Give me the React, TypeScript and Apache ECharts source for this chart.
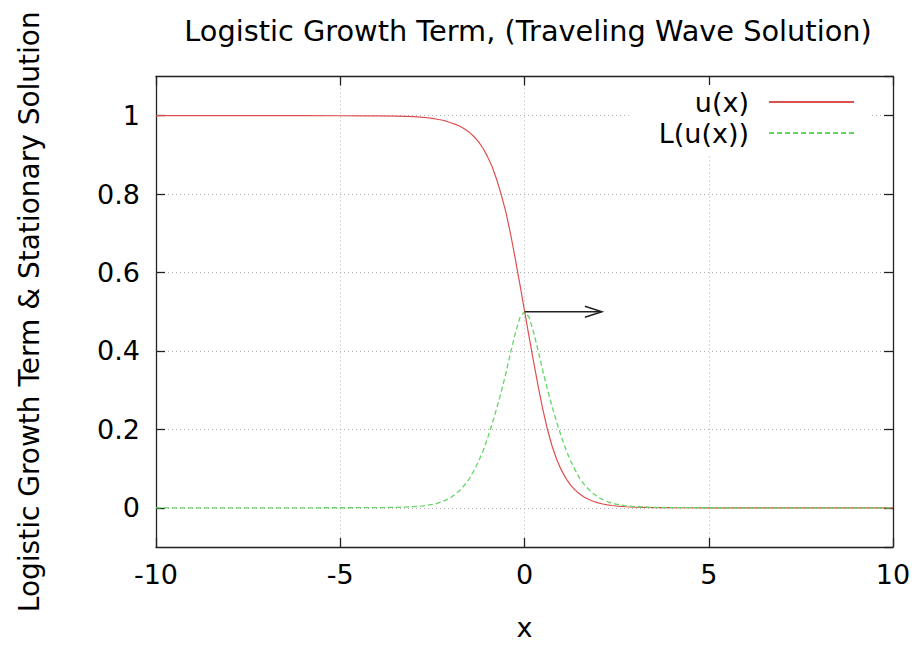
import React, { useEffect, useRef } from "react";
import * as echarts from "echarts";

// Sample positions along x
const xs = [
  -10, -8, -6, -5, -4.5, -4, -3.5, -3, -2.75,
  -2.5, -2.375, -2.25, -2.125, -2, -1.875, -1.75, -1.625, -1.5, -1.375, -1.25, -1.125,
  -1, -0.875, -0.75, -0.625, -0.5, -0.375, -0.25, -0.125,
  0, 0.125, 0.25, 0.375, 0.5, 0.625, 0.75, 0.875,
  1, 1.125, 1.25, 1.375, 1.5, 1.625, 1.75, 1.875, 2, 2.125, 2.25, 2.375, 2.5,
  2.75, 3, 3.5, 4, 4.5, 5, 6, 8, 10,
];

// Traveling wave profile u(x)
const uValues = [
  1, 1, 1, 0.9999, 0.9998, 0.9996, 0.999, 0.9975, 0.996,
  0.993, 0.991, 0.989, 0.986, 0.982, 0.978, 0.973, 0.966, 0.958, 0.947, 0.934, 0.917,
  0.895, 0.869, 0.836, 0.797, 0.752, 0.697, 0.635, 0.57,
  0.503, 0.436, 0.371, 0.308, 0.25, 0.199, 0.157, 0.123,
  0.096, 0.075, 0.058, 0.045, 0.035, 0.027, 0.021, 0.016, 0.0125, 0.0097, 0.0075, 0.0058, 0.0045,
  0.0027, 0.0016, 0.0006, 0.0002, 0.0001, 0, 0, 0, 0,
];

// Logistic growth term L(u(x))
const lValues = [
  0, 0, 0, 0.0001, 0.0002, 0.0004, 0.001, 0.003, 0.005,
  0.0085, 0.0115, 0.015, 0.02, 0.026, 0.035, 0.045, 0.058, 0.074, 0.094, 0.118, 0.145,
  0.178, 0.215, 0.255, 0.298, 0.345, 0.397, 0.445, 0.485,
  0.5, 0.486, 0.447, 0.399, 0.348, 0.301, 0.258, 0.218,
  0.181, 0.148, 0.12, 0.096, 0.075, 0.059, 0.046, 0.036, 0.027, 0.021, 0.016, 0.012, 0.009,
  0.005, 0.003, 0.001, 0.0004, 0.0002, 0.0001, 0, 0, 0,
];

// Direction of travel: [x0, y0, x1, y1]
const arrowSegment = [[0, 0.5, 2.1, 0.5]];

const seriesNames = ["u(x)", "L(u(x))"];
const titleText = "Logistic Growth Term, (Traveling Wave Solution)";
const xAxisName = "x";
const yAxisName = "Logistic Growth Term & Stationary Solution";

const FONT = "DejaVu Sans";
const FRAME = "#222222";
const GRID_LINE = { color: "#b0b0b0", width: 1, type: [1, 3] as number[] };

export default function App() {
  const ref = useRef<HTMLDivElement>(null);

  useEffect(() => {
    if (!ref.current) return;
    const chart = echarts.init(ref.current, undefined, { renderer: "svg" });

    const frameLine = { show: true, onZero: false, lineStyle: { color: FRAME, width: 1.3 } };
    const innerTick = { show: true, inside: true, length: 9, lineStyle: { color: FRAME, width: 1.3 } };

    const option: any = {
      animation: false,
      backgroundColor: "#ffffff",
      title: {
        text: titleText,
        left: 523,
        top: 11,
        textAlign: "center",
        textStyle: { fontFamily: FONT, fontSize: 28.8, fontWeight: "normal", color: "#000" },
      },
      grid: { left: 156, right: 25, top: 76.5, bottom: 95.5, containLabel: false },
      legend: {
        orient: "vertical",
        align: "right",
        right: 46,
        top: 85,
        itemWidth: 85,
        itemHeight: 14,
        itemGap: 1,
        padding: [2, 17, 8, 30],
        backgroundColor: "#ffffff",
        itemStyle: { opacity: 0 },
        textStyle: {
          fontFamily: FONT,
          fontSize: 27,
          color: "#000",
          lineHeight: 30,
          padding: [0, 15, 0, 0],
        },
        data: seriesNames,
      },
      xAxis: [
        {
          type: "value",
          position: "bottom",
          min: -10,
          max: 10,
          interval: 5,
          name: xAxisName,
          nameLocation: "middle",
          nameGap: 67,
          nameTextStyle: { fontFamily: FONT, fontSize: 27, color: "#000" },
          axisLine: frameLine,
          axisTick: innerTick,
          axisLabel: { fontFamily: FONT, fontSize: 27, color: "#000", margin: 14 },
          splitLine: { show: true, lineStyle: GRID_LINE },
        },
        {
          type: "value",
          position: "top",
          min: -10,
          max: 10,
          interval: 5,
          axisLine: frameLine,
          axisTick: innerTick,
          axisLabel: { show: false },
          splitLine: { show: false },
        },
      ],
      yAxis: [
        {
          type: "value",
          position: "left",
          min: -0.1,
          max: 1.1,
          splitNumber: 6,
          name: yAxisName,
          nameLocation: "middle",
          nameGap: 113,
          nameTextStyle: { fontFamily: FONT, fontSize: 28, color: "#000" },
          axisLine: frameLine,
          axisTick: innerTick,
          axisLabel: {
            fontFamily: FONT,
            fontSize: 27,
            color: "#000",
            margin: 16,
            showMinLabel: false,
            showMaxLabel: false,
          },
          splitLine: { show: true, lineStyle: GRID_LINE },
        },
        {
          type: "value",
          position: "right",
          min: -0.1,
          max: 1.1,
          splitNumber: 6,
          axisLine: frameLine,
          axisTick: innerTick,
          axisLabel: { show: false },
          splitLine: { show: false },
        },
      ],
      series: [
        {
          name: seriesNames[0],
          type: "line",
          xAxisIndex: 0,
          yAxisIndex: 0,
          symbol: "none",
          smooth: false,
          lineStyle: { color: "#dd5050", width: 1.2 },
          itemStyle: { color: "#dd5050" },
          data: xs.map((x, i) => [x, uValues[i]]),
          z: 3,
        },
        {
          name: seriesNames[1],
          type: "line",
          xAxisIndex: 0,
          yAxisIndex: 0,
          symbol: "none",
          smooth: false,
          lineStyle: { color: "#62d862", width: 1.3, type: [5, 3] },
          itemStyle: { color: "#62d862" },
          data: xs.map((x, i) => [x, lValues[i]]),
          z: 4,
        },
        {
          type: "custom",
          xAxisIndex: 0,
          yAxisIndex: 0,
          silent: true,
          encode: { x: [0, 2], y: [1, 3] },
          data: arrowSegment,
          renderItem: (_params: any, api: any) => {
            const p0 = api.coord([api.value(0), api.value(1)]);
            const p1 = api.coord([api.value(2), api.value(3)]);
            const stroke = { stroke: "#222", lineWidth: 1.5, fill: "none" };
            return {
              type: "group",
              children: [
                { type: "line", shape: { x1: p0[0], y1: p0[1], x2: p1[0], y2: p1[1] }, style: stroke },
                {
                  type: "polyline",
                  shape: {
                    points: [
                      [p1[0] - 17, p1[1] - 5.5],
                      [p1[0], p1[1]],
                      [p1[0] - 17, p1[1] + 5.5],
                    ],
                  },
                  style: stroke,
                },
              ],
            };
          },
          z: 5,
        },
      ],
    };

    chart.setOption(option);
    return () => chart.dispose();
  }, []);

  return <div ref={ref} style={{ width: 918, height: 646, position: "absolute", left: 0, top: 0 }} />;
}
